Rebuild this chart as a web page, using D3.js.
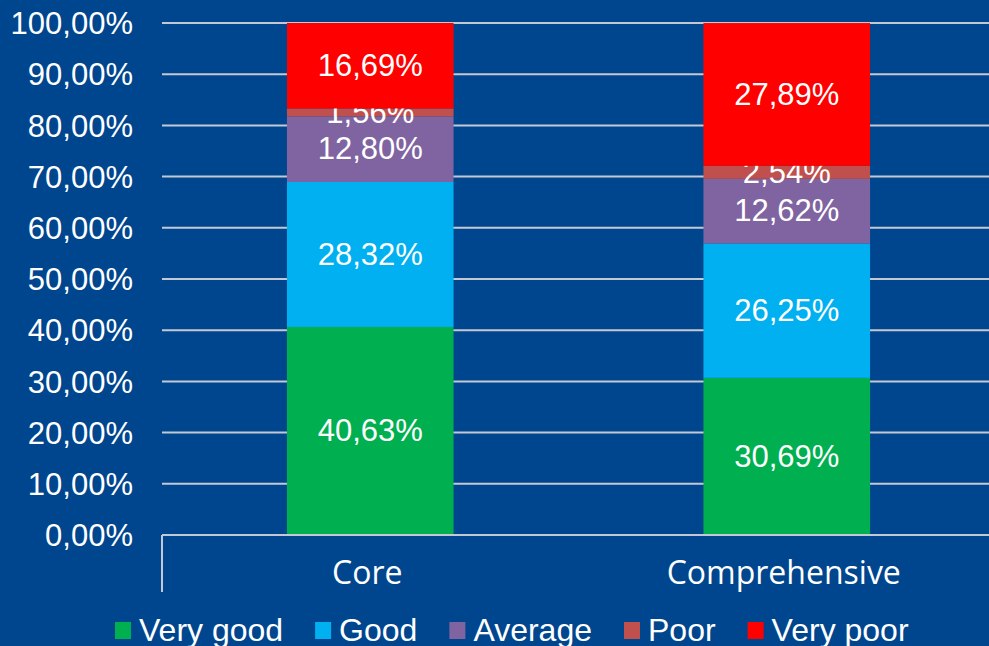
<!DOCTYPE html>
<html>
<head>
<meta charset="utf-8">
<script src="https://cdn.jsdelivr.net/npm/d3@7"></script>
<style>
  html, body { margin: 0; padding: 0; background: #00468e; overflow: hidden; }
  svg { display: block; }
</style>
</head>
<body>
<div id="chart"></div>
<script>
// chart data
var categories = ["Core", "Comprehensive"];
var seriesNames = ["Very good", "Good", "Average", "Poor", "Very poor"];
var seriesColors = ["#00b050", "#00b0f0", "#8064a2", "#c0504d", "#ff0000"];
var veryGood = [40.63, 30.69];
var good = [28.32, 26.25];
var average = [12.80, 12.62];
var poor = [1.56, 2.54];
var veryPoor = [16.69, 27.89];
var yTicks = [0, 10, 20, 30, 40, 50, 60, 70, 80, 90, 100];

var width = 989, height = 646;
var margin = {top: 23, right: -6, bottom: 111, left: 162};

var svg = d3.select("#chart").append("svg").attr("width", width).attr("height", height);
svg.append("rect").attr("width", width).attr("height", height).attr("fill", "#00468e");

var x = d3.scaleBand().domain(categories).range([margin.left, width - margin.right]).paddingInner(0.6).paddingOuter(0.3);
var y = d3.scaleLinear().domain([0, 100]).range([height - margin.bottom, margin.top]);

// building rows for d3.stack
var allSeries = [veryGood, good, average, poor, veryPoor];
var rows = categories.map(function(c, i) {
    var r = {cat: c};
    seriesNames.forEach(function(s, j) { r[s] = allSeries[j][i]; });
    return r;
});
var stacked = d3.stack().keys(seriesNames)(rows);

function fmt(v) { return v.toFixed(2).replace(".", ",") + "%"; }

// gridlines
svg.append("g").selectAll("line").data(yTicks.slice(1)).enter().append("line")
    .attr("x1", margin.left).attr("x2", width)
    .attr("y1", function(d) { return y(d); }).attr("y2", function(d) { return y(d); })
    .attr("stroke", "#c4c8d4").attr("stroke-width", 2);

// y tick labels
svg.append("g").selectAll("text").data(yTicks).enter().append("text")
    .attr("x", 133).attr("y", function(d) { return y(d); }).attr("dy", "0.36em")
    .attr("text-anchor", "end").attr("fill", "#ffffff")
    .style("font-family", "Liberation Sans, Arial, sans-serif").style("font-size", "31px")
    .text(function(d) { return fmt(d); });

// bars
var layers = svg.append("g").selectAll("g").data(stacked).enter().append("g")
    .attr("fill", function(d, i) { return seriesColors[i]; });
layers.selectAll("rect").data(function(d) { return d; }).enter().append("rect")
    .attr("x", function(d) { return x(d.data.cat); })
    .attr("width", x.bandwidth())
    .attr("y", function(d) { return y(d[1]); })
    .attr("height", function(d) { return y(d[0]) - y(d[1]); });

// data labels
layers.selectAll("text").data(function(d) { return d.map(function(p) { p.key = d.key; return p; }); }).enter().append("text")
    .attr("x", function(d) { return x(d.data.cat) + x.bandwidth() / 2; })
    .attr("y", function(d) { return (y(d[0]) + y(d[1])) / 2 - 1; }).attr("dy", "0.36em")
    .attr("text-anchor", "middle").attr("fill", "#ffffff")
    .style("font-family", "Liberation Sans, Arial, sans-serif").style("font-size", "31px")
    .text(function(d) { return fmt(d.data[d.key]); });

// x axis line and left tick
var base = y(0);
svg.append("line").attr("x1", margin.left).attr("x2", width).attr("y1", base).attr("y2", base)
    .attr("stroke", "#c4c8d4").attr("stroke-width", 2);
svg.append("line").attr("x1", margin.left).attr("x2", margin.left).attr("y1", base).attr("y2", base + 57)
    .attr("stroke", "#c4c8d4").attr("stroke-width", 2);

// category labels
svg.append("g").selectAll("text").data(categories).enter().append("text")
    .attr("x", function(d) { return x(d) + x.bandwidth() / 2 - 3; }).attr("y", 572).attr("dy", "0.36em")
    .attr("text-anchor", "middle").attr("fill", "#ffffff")
    .style("font-family", "Open Sans, Noto Sans, sans-serif").style("font-size", "32px")
    .text(function(d) { return d; });

// legend
var legend = svg.append("g");
var lx = 115;
seriesNames.forEach(function(s, i) {
    legend.append("rect").attr("x", lx).attr("y", 622).attr("width", 16).attr("height", 17).attr("fill", seriesColors[i]);
    var t = legend.append("text").attr("x", lx + 24).attr("y", 641).attr("fill", "#ffffff")
        .style("font-family", "Liberation Sans, Arial, sans-serif").style("font-size", "32px")
        .text(s);
    lx += 24 + t.node().getComputedTextLength() + 32;
});
</script>
</body>
</html>
